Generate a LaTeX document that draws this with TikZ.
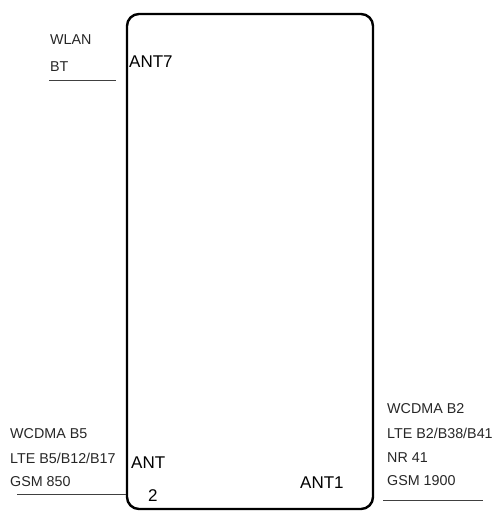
\documentclass[tikz,border=0pt]{standalone}
\usepackage{fontspec}
\setmainfont{Liberation Sans}
\begin{document}
\begin{tikzpicture}[x=1pt,y=-1pt,
  band/.style={anchor=base west, inner sep=0pt, text=black!85, font=\fontsize{14.3}{16}\selectfont},
  antlabel/.style={anchor=base west, inner sep=0pt, text=black, font=\fontsize{17}{19}\selectfont},
  feed/.style={line width=1pt, draw=black!75},
  module/.style={line width=2.4pt, rounded corners=12pt}]
\useasboundingbox (0,0) rectangle (496,511);
\draw[module] (127,14) rectangle (373,509);
% top left
\node[band] (wlan) at (50,45) {WLAN};
\node[band] (bt) at (50,71) {BT};
\coordinate (w1) at (49,80);
\coordinate (w2) at (116,80);
\draw[feed] (w1) -- (w2);
\node[antlabel] (ant7) at (129,67) {ANT7};
% bottom left
\node[band] (wb5) at (10,438) {WCDMA B5};
\node[band] (lb5) at (10,463) {LTE B5/B12/B17};
\node[band] (g850) at (10,486) {GSM 850};
\coordinate (l1) at (17,494);
\coordinate (l2) at (126,494);
\draw[feed] (l1) -- (l2);
\node[antlabel] (ant2a) at (131,468) {ANT};
\node[antlabel] (ant2b) at (148,501) {2};
% bottom right
\node[antlabel] (ant1) at (300,488) {ANT1};
\node[band] (wb2) at (387,413) {WCDMA B2};
\node[band] (lb2) at (387,438) {LTE B2/B38/B41};
\node[band] (nr) at (387,462) {NR 41};
\node[band] (g1900) at (387,485) {GSM 1900};
\coordinate (r1) at (383,500);
\coordinate (r2) at (483,500);
\draw[feed] (r1) -- (r2);
\end{tikzpicture}
\end{document}
